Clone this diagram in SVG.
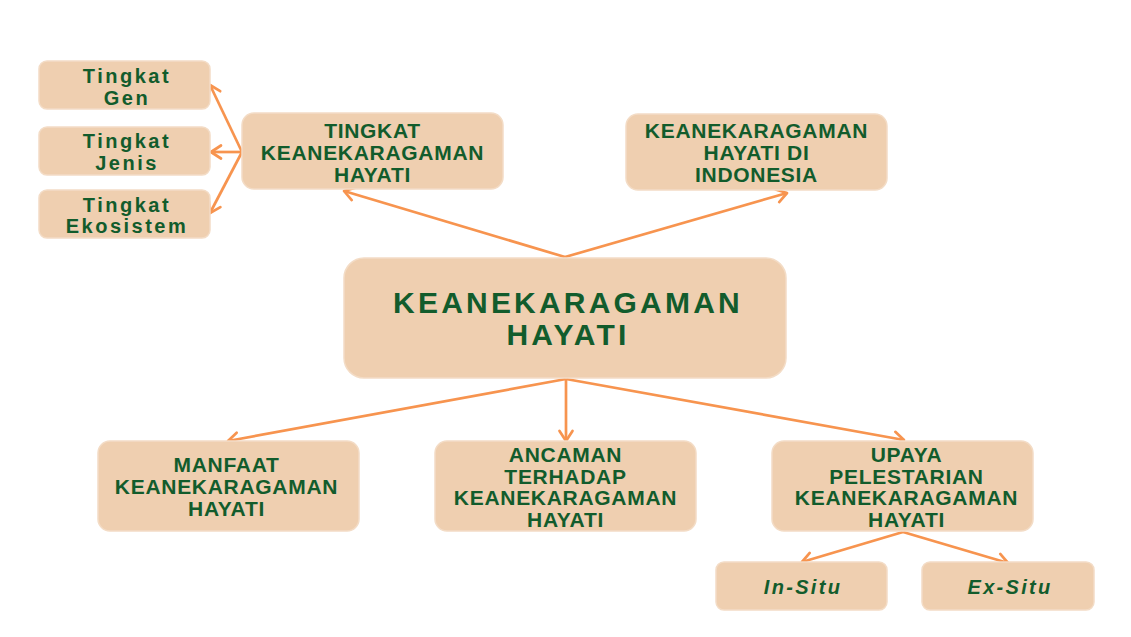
<svg xmlns="http://www.w3.org/2000/svg" width="1131" height="637" viewBox="0 0 1131 637">
<style>
.box{fill:#efcfb0;stroke:#f3dcc6;stroke-width:1.5}
.t{font-family:"Liberation Sans",Arial,sans-serif;font-weight:bold;fill:#125c2c;text-anchor:middle}
.s{font-size:21px;letter-spacing:0.7px}
.m{font-size:20px;letter-spacing:2.5px}
.c{font-size:30px;letter-spacing:3.2px}
.i{font-style:italic;letter-spacing:2.3px}
.ln{stroke:#f7944f;stroke-width:2.7;fill:none;marker-end:url(#ah)}
</style>
<defs>
<marker id="ah" markerUnits="userSpaceOnUse" markerWidth="18" markerHeight="18" refX="14" refY="9" orient="auto">
<path d="M4,2.5 L14,9 L4,15.5" fill="none" stroke="#f7944f" stroke-width="2.7" stroke-linecap="round" stroke-linejoin="round"/>
</marker>
</defs>
<rect width="1131" height="637" fill="#ffffff"/>
<g id="connectors">
<path class="ln" d="M565,257 L344,191"/>
<path class="ln" d="M565,257 L787,193"/>
<path class="ln" d="M242,152 L210,85"/>
<path class="ln" d="M242,152 L211,152"/>
<path class="ln" d="M242,152 L210,213"/>
<path class="ln" d="M566,379 L228,441"/>
<path class="ln" d="M566,379 L566,441"/>
<path class="ln" d="M566,379 L904,440"/>
<path class="ln" d="M903,532 L802,562"/>
<path class="ln" d="M903,532 L1008,563"/>
</g>
<g id="gen">
<rect class="box" x="39" y="61" width="171" height="48" rx="8"/>
<text class="t m" x="127" y="83">Tingkat</text>
<text class="t m" x="127" y="105">Gen</text>
</g>
<g id="jenis">
<rect class="box" x="39" y="127" width="171" height="48" rx="8"/>
<text class="t m" x="127" y="148">Tingkat</text>
<text class="t m" x="127" y="170">Jenis</text>
</g>
<g id="ekosistem">
<rect class="box" x="39" y="190" width="171" height="48" rx="8"/>
<text class="t m" x="127" y="212">Tingkat</text>
<text class="t m" x="127" y="233">Ekosistem</text>
</g>
<g id="tingkat">
<rect class="box" x="242" y="113" width="261" height="76" rx="12"/>
<text class="t s" x="372.5" y="138">TINGKAT</text>
<text class="t s" x="372.5" y="160">KEANEKARAGAMAN</text>
<text class="t s" x="372.5" y="182">HAYATI</text>
</g>
<g id="indonesia">
<rect class="box" x="626" y="114" width="261" height="76" rx="12"/>
<text class="t s" x="756.5" y="138">KEANEKARAGAMAN</text>
<text class="t s" x="756.5" y="160">HAYATI DI</text>
<text class="t s" x="756.5" y="182">INDONESIA</text>
</g>
<g id="center">
<rect class="box" x="344" y="258" width="442" height="120" rx="20"/>
<text class="t c" x="568" y="313">KEANEKARAGAMAN</text>
<text class="t c" x="568" y="345">HAYATI</text>
</g>
<g id="manfaat">
<rect class="box" x="98" y="441" width="261" height="90" rx="12"/>
<text class="t s" x="226.5" y="472">MANFAAT</text>
<text class="t s" x="226.5" y="494">KEANEKARAGAMAN</text>
<text class="t s" x="226.5" y="516">HAYATI</text>
</g>
<g id="ancaman">
<rect class="box" x="435" y="441" width="261" height="90" rx="12"/>
<text class="t s" x="565.5" y="462">ANCAMAN</text>
<text class="t s" x="565.5" y="484">TERHADAP</text>
<text class="t s" x="565.5" y="505">KEANEKARAGAMAN</text>
<text class="t s" x="565.5" y="527">HAYATI</text>
</g>
<g id="upaya">
<rect class="box" x="772" y="441" width="261" height="90" rx="12"/>
<text class="t s" x="906.5" y="462">UPAYA</text>
<text class="t s" x="906.5" y="484">PELESTARIAN</text>
<text class="t s" x="906.5" y="505">KEANEKARAGAMAN</text>
<text class="t s" x="906.5" y="527">HAYATI</text>
</g>
<g id="insitu">
<rect class="box" x="716" y="562" width="171" height="48" rx="8"/>
<text class="t m i" x="803" y="594">In-Situ</text>
</g>
<g id="exsitu">
<rect class="box" x="922" y="562" width="172" height="48" rx="8"/>
<text class="t m i" x="1010" y="594">Ex-Situ</text>
</g>
</svg>
